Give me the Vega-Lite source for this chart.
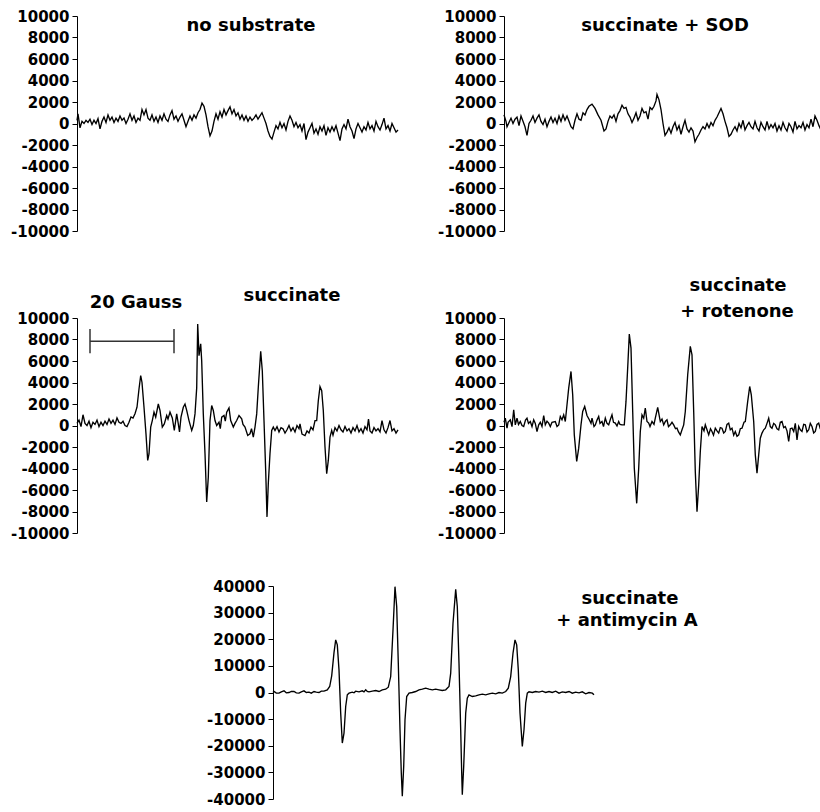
{
  "$schema": "https://vega.github.io/schema/vega-lite/v6.json",
  "padding": {"left": 10, "top": 9, "right": 0, "bottom": 0},
  "background": "white",
  "config": {
    "view": {"stroke": null},
    "font": "DejaVu Sans",
    "axisY": {
      "domainColor": "black", "tickColor": "black", "domainWidth": 1, "tickWidth": 1, "tickSize": 5,
      "labelFont": "DejaVu Sans", "labelFontWeight": "bold", "labelFontSize": 15, "labelColor": "black",
      "labelPadding": 3, "grid": false, "title": null, "labelFlush": false, "labelOverlap": false, "labelSeparation": 0, "tickCount": 20
    },
    "text": {"font": "DejaVu Sans", "fontWeight": "bold", "fontSize": 18, "color": "black", "align": "center", "baseline": "alphabetic"},
    "line": {"color": "black", "strokeWidth": 1.35, "interpolate": "linear"}
  },
  "datasets": {
    "p1": [
      {"x":0,"y":300},{"x":1,"y":900},{"x":3,"y":-400},{"x":5,"y":200},{"x":7,"y":0},{"x":9,"y":300},{"x":11,"y":100},{"x":13,"y":400},{"x":15,"y":-100},{"x":17,"y":300},{"x":19,"y":0},{"x":21,"y":450},{"x":23,"y":-500},{"x":25,"y":200},{"x":27,"y":600},{"x":29,"y":100},{"x":31,"y":800},{"x":33,"y":300},{"x":35,"y":600},{"x":37,"y":100},{"x":39,"y":500},{"x":41,"y":200},{"x":43,"y":700},{"x":45,"y":300},{"x":47,"y":500},{"x":49,"y":0},{"x":51,"y":400},{"x":53,"y":900},{"x":55,"y":300},{"x":57,"y":700},{"x":59,"y":100},{"x":61,"y":500},{"x":63,"y":300},{"x":65,"y":1300},{"x":67,"y":800},{"x":69,"y":1300},{"x":71,"y":500},{"x":73,"y":300},{"x":75,"y":800},{"x":77,"y":200},{"x":79,"y":600},{"x":81,"y":100},{"x":83,"y":700},{"x":85,"y":300},{"x":87,"y":900},{"x":89,"y":400},{"x":91,"y":200},{"x":93,"y":800},{"x":95,"y":1200},{"x":97,"y":400},{"x":99,"y":700},{"x":101,"y":200},{"x":103,"y":600},{"x":105,"y":900},{"x":107,"y":300},{"x":109,"y":-300},{"x":111,"y":200},{"x":113,"y":700},{"x":115,"y":300},{"x":117,"y":800},{"x":119,"y":500},{"x":121,"y":1000},{"x":123,"y":1300},{"x":125,"y":1900},{"x":127,"y":1600},{"x":129,"y":800},{"x":131,"y":-300},{"x":133,"y":-1150},{"x":135,"y":-700},{"x":137,"y":200},{"x":139,"y":900},{"x":141,"y":400},{"x":143,"y":1100},{"x":145,"y":600},{"x":147,"y":1300},{"x":149,"y":800},{"x":151,"y":1200},{"x":153,"y":1550},{"x":155,"y":900},{"x":157,"y":1300},{"x":159,"y":700},{"x":161,"y":1000},{"x":163,"y":400},{"x":165,"y":800},{"x":167,"y":300},{"x":169,"y":700},{"x":171,"y":200},{"x":173,"y":600},{"x":175,"y":300},{"x":177,"y":500},{"x":179,"y":800},{"x":181,"y":400},{"x":183,"y":700},{"x":185,"y":1000},{"x":187,"y":500},{"x":189,"y":0},{"x":191,"y":-700},{"x":193,"y":-1200},{"x":195,"y":-1450},{"x":197,"y":-800},{"x":199,"y":-200},{"x":201,"y":-500},{"x":203,"y":100},{"x":205,"y":-400},{"x":207,"y":0},{"x":209,"y":-600},{"x":211,"y":200},{"x":213,"y":700},{"x":215,"y":300},{"x":217,"y":-300},{"x":219,"y":100},{"x":221,"y":-400},{"x":223,"y":-100},{"x":225,"y":-700},{"x":227,"y":0},{"x":229,"y":-1500},{"x":231,"y":-800},{"x":233,"y":-400},{"x":235,"y":0},{"x":237,"y":-900},{"x":239,"y":-500},{"x":241,"y":-1000},{"x":243,"y":-300},{"x":245,"y":-700},{"x":247,"y":-200},{"x":249,"y":-1100},{"x":251,"y":-400},{"x":253,"y":-800},{"x":255,"y":-300},{"x":257,"y":-700},{"x":259,"y":-200},{"x":261,"y":-900},{"x":263,"y":-1600},{"x":265,"y":-500},{"x":267,"y":-100},{"x":269,"y":-500},{"x":271,"y":400},{"x":273,"y":-300},{"x":275,"y":-700},{"x":277,"y":-1400},{"x":279,"y":-500},{"x":281,"y":0},{"x":283,"y":-400},{"x":285,"y":-800},{"x":287,"y":-300},{"x":289,"y":-600},{"x":291,"y":100},{"x":293,"y":-500},{"x":295,"y":-200},{"x":297,"y":-700},{"x":299,"y":200},{"x":301,"y":-300},{"x":303,"y":-600},{"x":305,"y":-100},{"x":307,"y":500},{"x":309,"y":-500},{"x":311,"y":-200},{"x":313,"y":-700},{"x":315,"y":0},{"x":317,"y":-400},{"x":319,"y":-800},{"x":321,"y":-600}
    ],
    "p2": [
      {"x":0,"y":800},{"x":2,"y":200},{"x":3,"y":-300},{"x":5,"y":100},{"x":7,"y":500},{"x":9,"y":0},{"x":11,"y":400},{"x":13,"y":600},{"x":15,"y":-200},{"x":17,"y":700},{"x":19,"y":200},{"x":21,"y":-300},{"x":23,"y":-1100},{"x":25,"y":0},{"x":27,"y":300},{"x":29,"y":700},{"x":31,"y":100},{"x":33,"y":500},{"x":35,"y":800},{"x":37,"y":200},{"x":39,"y":-100},{"x":41,"y":400},{"x":43,"y":-300},{"x":45,"y":200},{"x":47,"y":600},{"x":49,"y":100},{"x":51,"y":500},{"x":53,"y":0},{"x":55,"y":700},{"x":57,"y":200},{"x":59,"y":800},{"x":61,"y":300},{"x":63,"y":700},{"x":65,"y":200},{"x":67,"y":-300},{"x":69,"y":-500},{"x":71,"y":300},{"x":73,"y":900},{"x":75,"y":400},{"x":77,"y":300},{"x":79,"y":1000},{"x":81,"y":800},{"x":83,"y":1300},{"x":85,"y":1600},{"x":88,"y":1800},{"x":91,"y":1400},{"x":94,"y":800},{"x":97,"y":300},{"x":100,"y":-700},{"x":102,"y":-500},{"x":104,"y":200},{"x":106,"y":700},{"x":108,"y":500},{"x":110,"y":800},{"x":112,"y":200},{"x":114,"y":900},{"x":116,"y":1200},{"x":118,"y":1700},{"x":120,"y":1400},{"x":122,"y":1500},{"x":124,"y":900},{"x":126,"y":600},{"x":128,"y":100},{"x":130,"y":500},{"x":132,"y":1000},{"x":134,"y":300},{"x":136,"y":700},{"x":138,"y":1400},{"x":140,"y":1000},{"x":142,"y":1100},{"x":144,"y":400},{"x":146,"y":1500},{"x":148,"y":1300},{"x":150,"y":1600},{"x":152,"y":2100},{"x":153,"y":2700},{"x":155,"y":2200},{"x":157,"y":1300},{"x":159,"y":0},{"x":161,"y":-1100},{"x":163,"y":-800},{"x":165,"y":-400},{"x":167,"y":-900},{"x":169,"y":-300},{"x":171,"y":100},{"x":173,"y":-600},{"x":175,"y":-200},{"x":177,"y":-1000},{"x":179,"y":-300},{"x":181,"y":300},{"x":183,"y":-500},{"x":185,"y":-800},{"x":187,"y":-400},{"x":189,"y":-700},{"x":191,"y":-1700},{"x":193,"y":-1300},{"x":195,"y":-1000},{"x":197,"y":-600},{"x":199,"y":-300},{"x":201,"y":-500},{"x":203,"y":0},{"x":205,"y":-400},{"x":207,"y":100},{"x":209,"y":-200},{"x":211,"y":300},{"x":213,"y":600},{"x":215,"y":1000},{"x":217,"y":1400},{"x":219,"y":900},{"x":221,"y":200},{"x":223,"y":-400},{"x":225,"y":-1200},{"x":227,"y":-1000},{"x":229,"y":-600},{"x":231,"y":-300},{"x":233,"y":-700},{"x":235,"y":0},{"x":237,"y":-400},{"x":239,"y":300},{"x":241,"y":-600},{"x":243,"y":-200},{"x":245,"y":100},{"x":247,"y":-300},{"x":249,"y":-500},{"x":251,"y":200},{"x":253,"y":-400},{"x":255,"y":-700},{"x":257,"y":100},{"x":259,"y":-300},{"x":261,"y":-600},{"x":263,"y":200},{"x":265,"y":-500},{"x":267,"y":-100},{"x":269,"y":-400},{"x":271,"y":0},{"x":273,"y":-700},{"x":275,"y":-200},{"x":277,"y":-600},{"x":279,"y":100},{"x":281,"y":-400},{"x":283,"y":-700},{"x":285,"y":0},{"x":287,"y":-300},{"x":289,"y":-800},{"x":291,"y":200},{"x":293,"y":-500},{"x":295,"y":-200},{"x":297,"y":-400},{"x":299,"y":100},{"x":301,"y":-600},{"x":303,"y":-100},{"x":305,"y":-400},{"x":307,"y":400},{"x":309,"y":-300},{"x":311,"y":700},{"x":313,"y":300},{"x":315,"y":-200},{"x":317,"y":-600},{"x":319,"y":0},{"x":321,"y":-400}
    ],
    "p3": [
      {"x":0,"y":200},{"x":2,"y":500},{"x":4,"y":-100},{"x":6,"y":1000},{"x":8,"y":200},{"x":10,"y":0},{"x":12,"y":400},{"x":14,"y":-200},{"x":16,"y":300},{"x":18,"y":100},{"x":20,"y":500},{"x":22,"y":-100},{"x":24,"y":300},{"x":26,"y":0},{"x":28,"y":400},{"x":30,"y":100},{"x":32,"y":600},{"x":34,"y":200},{"x":36,"y":500},{"x":38,"y":100},{"x":40,"y":700},{"x":42,"y":300},{"x":44,"y":200},{"x":46,"y":400},{"x":48,"y":0},{"x":50,"y":-100},{"x":52,"y":300},{"x":54,"y":800},{"x":56,"y":700},{"x":58,"y":1100},{"x":60,"y":1700},{"x":62,"y":3400},{"x":63.7,"y":4650},{"x":65,"y":4000},{"x":67,"y":1700},{"x":69,"y":-800},{"x":70.7,"y":-3250},{"x":72,"y":-2650},{"x":73.7,"y":-150},{"x":75.3,"y":460},{"x":77,"y":1240},{"x":78.7,"y":770},{"x":81.3,"y":2000},{"x":83,"y":1400},{"x":85.3,"y":-150},{"x":87.3,"y":150},{"x":89.7,"y":930},{"x":91,"y":600},{"x":93,"y":1240},{"x":95.3,"y":700},{"x":97.3,"y":-460},{"x":99.7,"y":1080},{"x":101.3,"y":150},{"x":102.5,"y":-600},{"x":104,"y":770},{"x":106.3,"y":1700},{"x":108,"y":2000},{"x":109.7,"y":1400},{"x":112,"y":460},{"x":114.7,"y":-460},{"x":116.3,"y":0},{"x":118,"y":1080},{"x":119.7,"y":3500},{"x":120.7,"y":9440},{"x":122,"y":6500},{"x":123.7,"y":7600},{"x":124.7,"y":6000},{"x":126.3,"y":1080},{"x":128,"y":-2600},{"x":129.7,"y":-7120},{"x":131.3,"y":-4800},{"x":133,"y":460},{"x":134.7,"y":1860},{"x":136.3,"y":1400},{"x":138,"y":460},{"x":139.7,"y":0},{"x":142,"y":300},{"x":143.3,"y":-300},{"x":144.7,"y":770},{"x":147,"y":930},{"x":148.3,"y":400},{"x":149.7,"y":1240},{"x":152,"y":1640},{"x":153.7,"y":460},{"x":156.3,"y":-150},{"x":158,"y":200},{"x":159.7,"y":460},{"x":162,"y":930},{"x":164.7,"y":620},{"x":166,"y":100},{"x":168,"y":-150},{"x":170.7,"y":-930},{"x":173,"y":-770},{"x":174.5,"y":-300},{"x":176.3,"y":-1080},{"x":178,"y":-150},{"x":179.7,"y":1080},{"x":181.3,"y":3560},{"x":183.7,"y":6900},{"x":185.3,"y":5100},{"x":187,"y":460},{"x":188.7,"y":-4200},{"x":190,"y":-8500},{"x":191.3,"y":-5400},{"x":193,"y":-2600},{"x":194.7,"y":-460},{"x":196.3,"y":-150},{"x":198,"y":-460},{"x":200,"y":-100},{"x":202,"y":-600},{"x":204,"y":-200},{"x":206,"y":-310},{"x":208,"y":-700},{"x":210,"y":-400},{"x":212,"y":0},{"x":214,"y":-500},{"x":216,"y":-200},{"x":218,"y":-600},{"x":220,"y":0},{"x":222,"y":-300},{"x":223,"y":150},{"x":225,"y":-800},{"x":228,"y":-930},{"x":230,"y":-500},{"x":232,"y":-700},{"x":234,"y":-150},{"x":236,"y":-400},{"x":238,"y":460},{"x":239.7,"y":460},{"x":241.3,"y":2300},{"x":243,"y":3620},{"x":244.7,"y":3250},{"x":246.3,"y":1400},{"x":248,"y":-2000},{"x":249.7,"y":-4490},{"x":251.3,"y":-3250},{"x":253,"y":-1080},{"x":254.7,"y":-460},{"x":256,"y":-900},{"x":258,"y":-200},{"x":260,"y":-500},{"x":262,"y":0},{"x":264,"y":-400},{"x":266,"y":-600},{"x":268,"y":-100},{"x":270,"y":-500},{"x":272,"y":-300},{"x":274,"y":-700},{"x":276,"y":-200},{"x":278,"y":-500},{"x":280,"y":0},{"x":282,"y":-600},{"x":284,"y":-300},{"x":286,"y":-700},{"x":288,"y":-100},{"x":290,"y":-400},{"x":291.5,"y":600},{"x":293,"y":-500},{"x":295,"y":-700},{"x":297,"y":-200},{"x":299,"y":-500},{"x":301,"y":-300},{"x":303,"y":-600},{"x":305,"y":460},{"x":307,"y":-400},{"x":309,"y":-700},{"x":311,"y":-200},{"x":313,"y":460},{"x":315,"y":-500},{"x":317,"y":-300},{"x":319,"y":-700},{"x":321,"y":-400}
    ],
    "p4": [
      {"x":0,"y":300},{"x":1.3,"y":680},{"x":3,"y":-250},{"x":4,"y":300},{"x":6.3,"y":530},{"x":8,"y":-100},{"x":9.7,"y":1460},{"x":11.3,"y":60},{"x":13,"y":680},{"x":14.5,"y":100},{"x":16.3,"y":370},{"x":18,"y":0},{"x":19.7,"y":-90},{"x":21.5,"y":500},{"x":23,"y":680},{"x":24.5,"y":200},{"x":26.3,"y":370},{"x":28,"y":-100},{"x":29.7,"y":530},{"x":31.3,"y":200},{"x":33,"y":-560},{"x":34.7,"y":60},{"x":36.3,"y":300},{"x":38,"y":-90},{"x":39.7,"y":930},{"x":41.3,"y":60},{"x":43,"y":400},{"x":44.7,"y":220},{"x":46.3,"y":-90},{"x":48,"y":300},{"x":51.3,"y":370},{"x":53,"y":-100},{"x":54.7,"y":60},{"x":56.3,"y":840},{"x":58,"y":530},{"x":59.7,"y":990},{"x":61.3,"y":370},{"x":63,"y":1930},{"x":64.7,"y":3480},{"x":67,"y":5030},{"x":68.7,"y":2860},{"x":70.3,"y":-870},{"x":72.7,"y":-3350},{"x":74.7,"y":-2110},{"x":77,"y":60},{"x":78.7,"y":1300},{"x":80.7,"y":1770},{"x":83,"y":930},{"x":85.3,"y":530},{"x":87,"y":200},{"x":88,"y":680},{"x":90,"y":-100},{"x":91.3,"y":60},{"x":93,"y":500},{"x":94.7,"y":840},{"x":96,"y":200},{"x":98,"y":370},{"x":99.5,"y":-100},{"x":101.3,"y":680},{"x":103,"y":200},{"x":104.7,"y":60},{"x":106.5,"y":600},{"x":108,"y":990},{"x":109.5,"y":300},{"x":111.3,"y":220},{"x":113,"y":-50},{"x":114.7,"y":370},{"x":116,"y":100},{"x":118,"y":60},{"x":120.3,"y":60},{"x":122,"y":2240},{"x":124,"y":5960},{"x":125.3,"y":8500},{"x":127,"y":7200},{"x":128.7,"y":1300},{"x":130.3,"y":-3980},{"x":132.7,"y":-7240},{"x":134.7,"y":-3980},{"x":136.3,"y":-560},{"x":138,"y":990},{"x":139.7,"y":680},{"x":141.3,"y":1610},{"x":143,"y":370},{"x":144.7,"y":220},{"x":146,"y":-100},{"x":148,"y":370},{"x":150,"y":100},{"x":151.3,"y":680},{"x":153.7,"y":1680},{"x":156.3,"y":370},{"x":158,"y":600},{"x":159.7,"y":60},{"x":161.5,"y":400},{"x":163,"y":530},{"x":164.5,"y":-100},{"x":166.3,"y":60},{"x":168,"y":300},{"x":169.7,"y":60},{"x":171.5,"y":-300},{"x":173,"y":-250},{"x":174.5,"y":-600},{"x":176.3,"y":-870},{"x":178,"y":-400},{"x":179.7,"y":60},{"x":181.3,"y":1300},{"x":183.7,"y":4720},{"x":186.3,"y":7360},{"x":188,"y":6580},{"x":189.7,"y":1300},{"x":191.3,"y":-4290},{"x":193,"y":-8010},{"x":194.7,"y":-5530},{"x":196.3,"y":-2420},{"x":198,"y":-90},{"x":200,"y":-500},{"x":201.3,"y":60},{"x":203,"y":-400},{"x":204.7,"y":-870},{"x":206.5,"y":-300},{"x":208,"y":-560},{"x":209.5,"y":-900},{"x":211.3,"y":-250},{"x":213,"y":-500},{"x":214.7,"y":-710},{"x":216.3,"y":-200},{"x":218,"y":-250},{"x":219.7,"y":-700},{"x":221.3,"y":-560},{"x":223,"y":100},{"x":224.7,"y":220},{"x":226.3,"y":-400},{"x":228,"y":-250},{"x":229.7,"y":-900},{"x":231.3,"y":-560},{"x":233,"y":-1000},{"x":234.7,"y":-870},{"x":236.3,"y":-300},{"x":238,"y":-250},{"x":240,"y":300},{"x":241.3,"y":370},{"x":243.7,"y":2240},{"x":245.7,"y":3630},{"x":247.3,"y":2860},{"x":249.7,"y":370},{"x":251.3,"y":-2730},{"x":253,"y":-4440},{"x":254.7,"y":-2730},{"x":256.3,"y":-1180},{"x":258,"y":-710},{"x":259.7,"y":-400},{"x":261.3,"y":-250},{"x":263,"y":200},{"x":264.7,"y":680},{"x":266.3,"y":-100},{"x":268,"y":-250},{"x":269.7,"y":200},{"x":271.3,"y":60},{"x":273,"y":-300},{"x":274.7,"y":-400},{"x":276.3,"y":300},{"x":278,"y":370},{"x":279.7,"y":-200},{"x":281.3,"y":-90},{"x":283,"y":-500},{"x":284.7,"y":-1490},{"x":286.3,"y":-300},{"x":288,"y":-250},{"x":289.7,"y":-560},{"x":291.3,"y":200},{"x":293,"y":-1340},{"x":294.7,"y":-90},{"x":296.3,"y":-400},{"x":298,"y":-560},{"x":299.7,"y":100},{"x":301.3,"y":60},{"x":303,"y":-600},{"x":304.7,"y":-400},{"x":306.3,"y":200},{"x":308,"y":-90},{"x":309.7,"y":-700},{"x":311.3,"y":-560},{"x":313,"y":100},{"x":314.7,"y":220},{"x":316.3,"y":-300},{"x":318,"y":-400},{"x":319.7,"y":300},{"x":321,"y":60}
    ],
    "p5": [
      {"x":0,"y":0},{"x":1,"y":375},{"x":3.3,"y":-250},{"x":6,"y":-250},{"x":8.3,"y":250},{"x":11,"y":625},{"x":13.3,"y":-125},{"x":16,"y":0},{"x":18.3,"y":375},{"x":21,"y":375},{"x":23.3,"y":-125},{"x":26,"y":-250},{"x":28.3,"y":250},{"x":31,"y":625},{"x":33.3,"y":0},{"x":36,"y":125},{"x":38.3,"y":-250},{"x":41,"y":375},{"x":43.3,"y":125},{"x":46,"y":0},{"x":48.3,"y":500},{"x":51,"y":500},{"x":54.3,"y":1000},{"x":56.7,"y":2250},{"x":58.7,"y":6250},{"x":61,"y":15000},{"x":62.7,"y":19750},{"x":64.3,"y":17900},{"x":66,"y":8500},{"x":67.7,"y":-7750},{"x":69.3,"y":-19000},{"x":71,"y":-15250},{"x":72.7,"y":-5250},{"x":74.3,"y":-875},{"x":76,"y":-250},{"x":79.3,"y":125},{"x":81,"y":-125},{"x":82.7,"y":500},{"x":86,"y":250},{"x":89.3,"y":625},{"x":91,"y":250},{"x":92.7,"y":1000},{"x":94.3,"y":375},{"x":96,"y":250},{"x":99.3,"y":500},{"x":102.7,"y":750},{"x":106,"y":375},{"x":109.3,"y":1000},{"x":112.7,"y":1250},{"x":115.3,"y":2000},{"x":117.7,"y":6000},{"x":120,"y":23500},{"x":122,"y":39750},{"x":123.7,"y":32250},{"x":125.3,"y":11000},{"x":127,"y":-14000},{"x":128.3,"y":-30250},{"x":129.3,"y":-39000},{"x":130.7,"y":-27750},{"x":132,"y":-10250},{"x":133.7,"y":-1500},{"x":136,"y":-250},{"x":139.3,"y":0},{"x":142.7,"y":375},{"x":146,"y":1000},{"x":149.3,"y":1250},{"x":152.7,"y":1625},{"x":156,"y":1250},{"x":159.3,"y":1000},{"x":162.7,"y":1250},{"x":166,"y":1000},{"x":169.3,"y":750},{"x":172.7,"y":1000},{"x":176,"y":2250},{"x":177.7,"y":7250},{"x":180,"y":26000},{"x":182.7,"y":38750},{"x":184.3,"y":32250},{"x":186,"y":11000},{"x":187.7,"y":-14000},{"x":188.7,"y":-30250},{"x":189.3,"y":-38400},{"x":190.7,"y":-27750},{"x":192.7,"y":-7750},{"x":194.3,"y":-2125},{"x":196,"y":-875},{"x":199.3,"y":-1500},{"x":202.7,"y":-1250},{"x":206,"y":-875},{"x":209.3,"y":-625},{"x":212.7,"y":-875},{"x":216,"y":-500},{"x":219.3,"y":-250},{"x":222.7,"y":-500},{"x":226,"y":0},{"x":229.3,"y":-250},{"x":232.7,"y":375},{"x":235.3,"y":1625},{"x":237.7,"y":6000},{"x":240,"y":14750},{"x":242,"y":19750},{"x":243.7,"y":17900},{"x":245.3,"y":8500},{"x":247,"y":-7750},{"x":249.3,"y":-20250},{"x":251,"y":-14000},{"x":252.7,"y":-4000},{"x":254.3,"y":-250},{"x":256,"y":250},{"x":259.3,"y":0},{"x":262.7,"y":375},{"x":266,"y":125},{"x":269.3,"y":500},{"x":272.7,"y":0},{"x":276,"y":375},{"x":279.3,"y":0},{"x":282.7,"y":500},{"x":286,"y":-250},{"x":289.3,"y":250},{"x":292.7,"y":0},{"x":296,"y":375},{"x":299.3,"y":-250},{"x":302.7,"y":125},{"x":306,"y":-125},{"x":309.3,"y":250},{"x":312.7,"y":-500},{"x":316,"y":0},{"x":319.3,"y":-250},{"x":321,"y":-875}
    ]
  },
  "vconcat": [
    {
      "hconcat": [
        {
          "width": 321, "height": 215,
          "layer": [
            {"data": {"name": "p1"}, "mark": "line",
             "encoding": {
               "x": {"field": "x", "type": "quantitative", "scale": {"domain": [0, 321], "nice": false, "zero": false}, "axis": null},
               "y": {"field": "y", "type": "quantitative", "scale": {"domain": [-10000, 10000], "nice": false}, "axis": {"values": [-10000,-8000,-6000,-4000,-2000,0,2000,4000,6000,8000,10000], "tickCount": 20, "labelExpr": "'' + datum.value", "labelOverlap": false}}
             }},
            {"data": {"values": [{}]}, "mark": "text",
             "encoding": {"x": {"datum": 174}, "y": {"datum": 8600}, "text": {"value": "no substrate"}}}
          ]
        },
        {
          "width": 321, "height": 215,
          "layer": [
            {"data": {"name": "p2"}, "mark": "line",
             "encoding": {
               "x": {"field": "x", "type": "quantitative", "scale": {"domain": [0, 321], "nice": false, "zero": false}, "axis": null},
               "y": {"field": "y", "type": "quantitative", "scale": {"domain": [-10000, 10000], "nice": false}, "axis": {"values": [-10000,-8000,-6000,-4000,-2000,0,2000,4000,6000,8000,10000], "tickCount": 20, "labelExpr": "'' + datum.value", "labelOverlap": false}}
             }},
            {"data": {"values": [{}]}, "mark": "text",
             "encoding": {"x": {"datum": 161}, "y": {"datum": 8600}, "text": {"value": "succinate + SOD"}}}
          ]
        }
      ],
      "spacing": 36
    },
    {
      "hconcat": [
        {
          "width": 321, "height": 215,
          "layer": [
            {"data": {"name": "p3"}, "mark": "line",
             "encoding": {
               "x": {"field": "x", "type": "quantitative", "scale": {"domain": [0, 321], "nice": false, "zero": false}, "axis": null},
               "y": {"field": "y", "type": "quantitative", "scale": {"domain": [-10000, 10000], "nice": false}, "axis": {"values": [-10000,-8000,-6000,-4000,-2000,0,2000,4000,6000,8000,10000], "tickCount": 20, "labelExpr": "'' + datum.value", "labelOverlap": false}}
             }},
            {"data": {"values": [{}]}, "mark": {"type": "rule", "color": "#333", "strokeWidth": 1.5},
             "encoding": {"x": {"datum": 13}, "x2": {"datum": 97}, "y": {"datum": 7830}}},
            {"data": {"values": [{}]}, "mark": {"type": "rule", "color": "#333", "strokeWidth": 1.5},
             "encoding": {"x": {"datum": 13}, "y": {"datum": 6720}, "y2": {"datum": 8980}}},
            {"data": {"values": [{}]}, "mark": {"type": "rule", "color": "#333", "strokeWidth": 1.5},
             "encoding": {"x": {"datum": 97}, "y": {"datum": 6720}, "y2": {"datum": 8980}}},
            {"data": {"values": [{}]}, "mark": "text",
             "encoding": {"x": {"datum": 59}, "y": {"datum": 10900}, "text": {"value": "20 Gauss"}}},
            {"data": {"values": [{}]}, "mark": "text",
             "encoding": {"x": {"datum": 215}, "y": {"datum": 11590}, "text": {"value": "succinate"}}}
          ]
        },
        {
          "width": 321, "height": 215,
          "layer": [
            {"data": {"name": "p4"}, "mark": "line",
             "encoding": {
               "x": {"field": "x", "type": "quantitative", "scale": {"domain": [0, 321], "nice": false, "zero": false}, "axis": null},
               "y": {"field": "y", "type": "quantitative", "scale": {"domain": [-10000, 10000], "nice": false}, "axis": {"values": [-10000,-8000,-6000,-4000,-2000,0,2000,4000,6000,8000,10000], "tickCount": 20, "labelExpr": "'' + datum.value", "labelOverlap": false}}
             }},
            {"data": {"values": [{}]}, "mark": "text",
             "encoding": {"x": {"datum": 234}, "y": {"datum": 12500}, "text": {"value": "succinate"}}},
            {"data": {"values": [{}]}, "mark": "text",
             "encoding": {"x": {"datum": 233}, "y": {"datum": 10100}, "text": {"value": "+ rotenone"}}}
          ]
        }
      ],
      "spacing": 36
    },
    {
      "width": 744, "height": 213,
      "layer": [
        {"data": {"name": "p5"}, "mark": "line",
         "encoding": {
           "x": {"field": "x", "type": "quantitative", "scale": {"domain": [-196, 548], "nice": false, "zero": false}, "axis": null},
           "y": {"field": "y", "type": "quantitative", "scale": {"domain": [-40000, 40000], "nice": false}, "axis": {"offset": -196, "values": [-40000,-30000,-20000,-10000,0,10000,20000,30000,40000], "tickCount": 20, "labelExpr": "'' + datum.value", "labelOverlap": false}}
         }},
        {"data": {"values": [{}]}, "mark": "text",
         "encoding": {"x": {"datum": 357}, "y": {"datum": 33350}, "text": {"value": "succinate"}}},
        {"data": {"values": [{}]}, "mark": "text",
         "encoding": {"x": {"datum": 354}, "y": {"datum": 24980}, "text": {"value": "+ antimycin A"}}}
      ]
    }
  ],
  "spacing": 38
}
